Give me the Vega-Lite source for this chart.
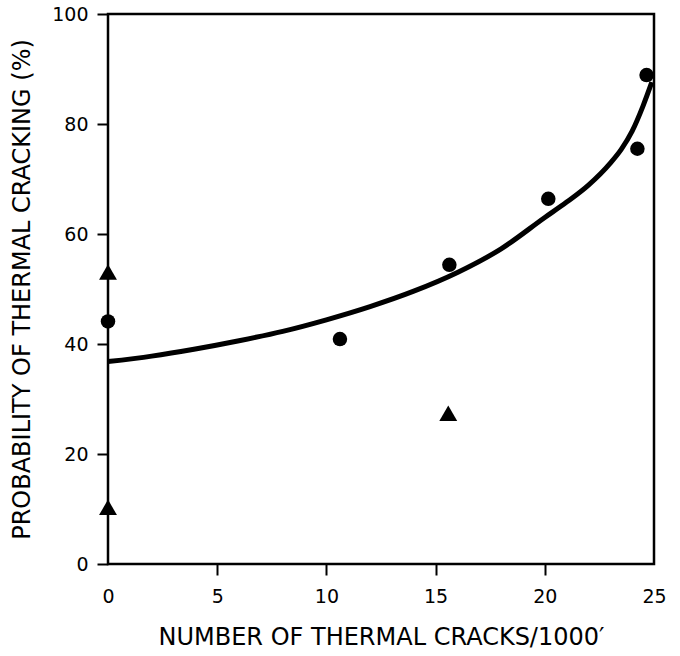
{
  "$schema": "https://vega.github.io/schema/vega-lite/v6.json",
  "width": 546,
  "height": 550,
  "autosize": {"type": "none"},
  "padding": {"left": 108, "top": 14, "right": 26, "bottom": 92},
  "background": "white",
  "config": {
    "view": {"stroke": "black", "strokeWidth": 2.5},
    "font": "DejaVu Sans"
  },
  "datasets": {
    "curve": [
      {"x": 0, "y": 36.8},
      {"x": 2, "y": 37.8},
      {"x": 4, "y": 39.1},
      {"x": 6, "y": 40.6},
      {"x": 8, "y": 42.3},
      {"x": 10, "y": 44.4},
      {"x": 12, "y": 46.8},
      {"x": 14, "y": 49.6},
      {"x": 16, "y": 53.0},
      {"x": 18, "y": 57.3},
      {"x": 20, "y": 63.0},
      {"x": 21, "y": 65.8},
      {"x": 22, "y": 68.9},
      {"x": 23, "y": 72.9},
      {"x": 23.5, "y": 75.4},
      {"x": 24, "y": 78.7},
      {"x": 24.5, "y": 83.3},
      {"x": 24.9, "y": 87.6}
    ],
    "points": [
      {"x": 0, "y": 44.1, "type": "circle"},
      {"x": 10.62, "y": 40.9, "type": "circle"},
      {"x": 15.63, "y": 54.4, "type": "circle"},
      {"x": 20.16, "y": 66.4, "type": "circle"},
      {"x": 24.24, "y": 75.5, "type": "circle"},
      {"x": 24.66, "y": 88.9, "type": "circle"},
      {"x": 0, "y": 53.1, "type": "triangle-up"},
      {"x": 0, "y": 10.3, "type": "triangle-up"},
      {"x": 15.58, "y": 27.4, "type": "triangle-up"}
    ]
  },
  "encoding": {
    "x": {
      "field": "x",
      "type": "quantitative",
      "scale": {"domain": [0, 25], "nice": false, "zero": false},
      "axis": {
        "values": [0, 5, 10, 15, 20, 25],
        "title": "NUMBER OF THERMAL CRACKS/1000′",
        "titleFont": "DejaVu Sans",
        "titleFontSize": 24,
        "titleFontWeight": "normal",
        "titleColor": "black",
        "titleY": 73,
        "titleBaseline": "middle",
        "labelFont": "DejaVu Sans",
        "labelFontSize": 19,
        "labelColor": "black",
        "labelFlush": false,
        "labelPadding": 12,
        "ticks": true,
        "tickSize": 11,
        "tickWidth": 2,
        "tickColor": {"condition": {"test": "datum.label != '0' && datum.label != '25'", "value": "black"}, "value": "transparent"},
        "domain": false,
        "grid": false
      }
    },
    "y": {
      "field": "y",
      "type": "quantitative",
      "scale": {"domain": [0, 100], "nice": false, "zero": false},
      "axis": {
        "values": [0, 20, 40, 60, 80, 100],
        "title": "PROBABILITY OF THERMAL CRACKING (%)",
        "titleFont": "DejaVu Sans",
        "titleFontSize": 24,
        "titleFontWeight": "normal",
        "titleColor": "black",
        "titleX": -86,
        "titleBaseline": "middle",
        "labelFont": "DejaVu Sans",
        "labelFontSize": 19,
        "labelColor": "black",
        "labelFlush": false,
        "labelPadding": 9,
        "ticks": true,
        "tickSize": 11,
        "tickWidth": 2,
        "tickColor": "black",
        "domain": false,
        "grid": false
      }
    }
  },
  "layer": [
    {
      "data": {"name": "curve"},
      "mark": {"type": "line", "color": "black", "strokeWidth": 5, "interpolate": "monotone"},
      "encoding": {}
    },
    {
      "data": {"name": "points"},
      "mark": {"type": "point", "filled": true, "color": "black", "opacity": 1, "size": 210},
      "encoding": {
        "shape": {
          "field": "type",
          "type": "nominal",
          "scale": {"domain": ["circle", "triangle-up"], "range": ["circle", "triangle-up"]},
          "legend": null
        },
        "size": {
          "field": "type",
          "type": "nominal",
          "scale": {"domain": ["circle", "triangle-up"], "range": [210, 320]},
          "legend": null
        }
      }
    }
  ]
}
